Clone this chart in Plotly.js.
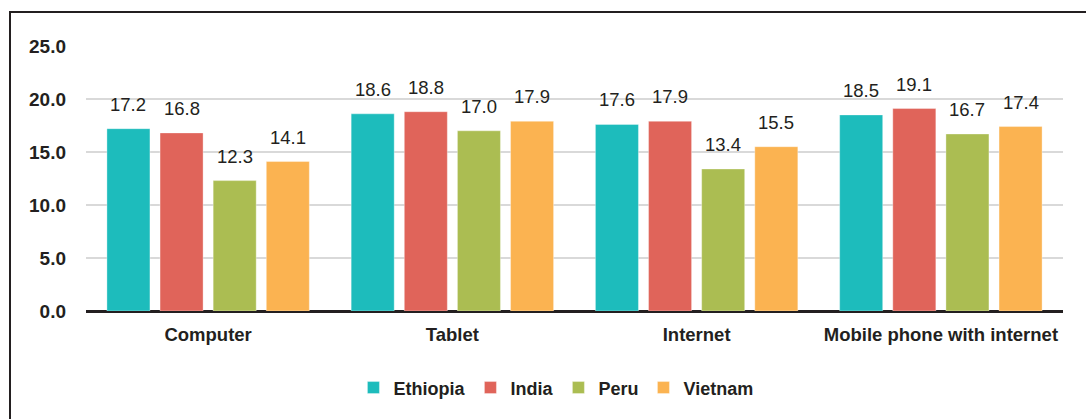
<!DOCTYPE html>
<html><head><meta charset="utf-8">
<script src="https://cdn.plot.ly/plotly-3.0.1.min.js"></script>
<style>
html,body{margin:0;padding:0;background:#fff;}
#wrap{position:relative;width:1086px;height:419px;overflow:hidden;}
#chart{width:1086px;height:419px;}
#frame{position:absolute;left:9px;top:11px;width:1200px;height:600px;border-left:2px solid #231f20;border-top:2px solid #231f20;pointer-events:none;}
</style></head>
<body>
<div id="wrap"><div id="chart"></div><div id="frame"></div></div>
<script>
const categories = ["Computer", "Tablet", "Internet", "Mobile phone with internet"];
const ethiopia = [17.2, 18.6, 17.6, 18.5];
const india = [16.8, 18.8, 17.9, 19.1];
const peru = [12.3, 17.0, 13.4, 16.7];
const vietnam = [14.1, 17.9, 15.5, 17.4];
const seriesNames = ["Ethiopia", "India", "Peru", "Vietnam"];
const colors = ["#1DBCBC", "#E0645A", "#ABBD52", "#FBB351"];

const boldFont = "'Liberation Sans', Arial, sans-serif";
const valueFont = "'Liberation Sans', Arial, sans-serif";
const BARGAP = 0.13;

const allSeries = [ethiopia, india, peru, vietnam];
const data = allSeries.map((vals, i) => ({
  type: 'bar',
  name: seriesNames[i],
  x: categories,
  y: vals,
  marker: {color: colors[i], line: {color: 'rgba(255,255,255,0.35)', width: 1}},
  hoverinfo: 'none'
}));

// value labels placed through the category axis (index + group offset)
const slot = (1 - BARGAP) / allSeries.length;
const annotations = [];
allSeries.forEach((vals, i) => {
  vals.forEach((v, c) => {
    annotations.push({
      xref: 'x', yref: 'y',
      x: c + (i - (allSeries.length - 1) / 2) * slot,
      y: v,
      text: v.toFixed(1),
      showarrow: false,
      xanchor: 'center', yanchor: 'bottom',
      yshift: 12,
      font: {family: valueFont, size: 18.5, color: '#231f20'}
    });
  });
});

const layout = {
  width: 1086, height: 419,
  margin: {l: 86, r: 23, t: 46, b: 108},
  paper_bgcolor: '#fff', plot_bgcolor: '#fff',
  barmode: 'group',
  bargap: BARGAP,
  bargroupgap: 0.19,
  showlegend: true,
  legend: {
    orientation: 'h', x: 0.481, xanchor: 'center', y: -0.29, yanchor: 'middle',
    font: {family: boldFont, size: 18, color: '#231f20', weight: 'bold'},
    itemwidth: 30, traceorder: 'normal'
  },
  annotations: annotations,
  xaxis: {
    type: 'category',
    tickfont: {family: boldFont, size: 18.5, color: '#231f20', weight: 'bold'},
    showgrid: false, zeroline: false,
    showline: false, ticks: '', ticklabelstandoff: 10
  },
  yaxis: {
    range: [0, 25],
    tickvals: [0, 5, 10, 15, 20, 25],
    tickformat: '.1f',
    tickfont: {family: boldFont, size: 19, color: '#231f20', weight: 'bold'},
    gridcolor: '#d9d9d9', gridwidth: 2,
    zeroline: true, zerolinecolor: '#231f20', zerolinewidth: 3,
    showline: false, ticks: '', ticklabelstandoff: 19
  },
  font: {family: valueFont}
};

Plotly.newPlot('chart', data, layout, {displayModeBar: false, staticPlot: true});
</script>
</body></html>
